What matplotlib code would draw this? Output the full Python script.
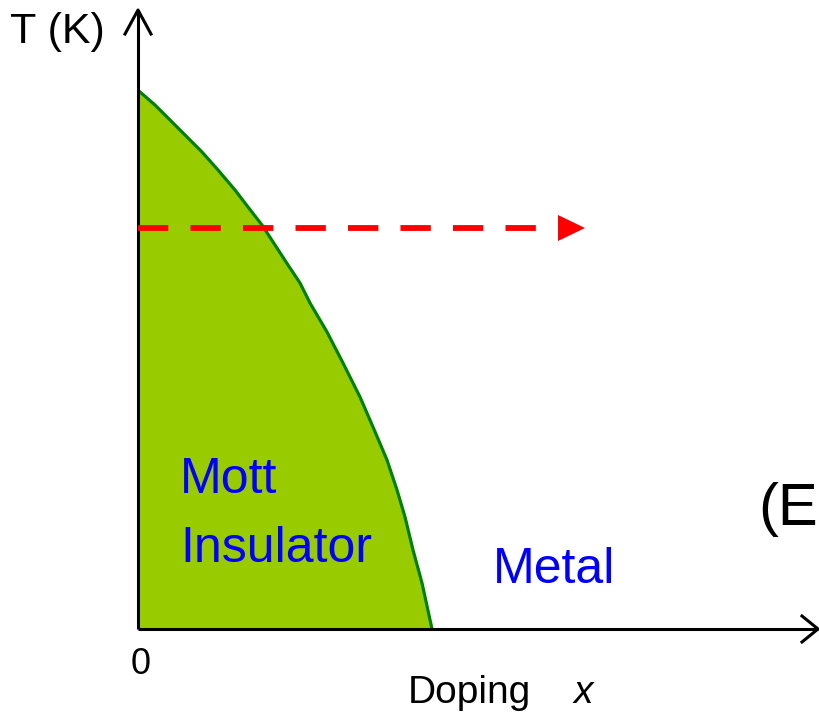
import matplotlib
matplotlib.use("Agg")
import matplotlib.pyplot as plt
from matplotlib.patches import Polygon

# Phase boundary T_MI(x) in plot units (origin at axis corner)
boundary_x = [0, 2, 17, 30, 47, 64, 80, 97, 110, 124, 137, 150, 162,
              172, 189, 205, 222, 235, 249, 259, 267, 275, 284, 294]
boundary_T = [539, 537, 524, 511, 494, 477, 459, 439, 422, 404, 384, 364, 346,
              326, 297, 266, 232, 202, 169, 139, 112, 79, 46, 0]

# Dashed arrow (constant temperature path)
path_T = 401
path_x_start = 0
path_x_end = 447

# Axis extents
x_axis_end = 680
T_axis_end = 619

fig = plt.figure(figsize=(8.2, 7.14), dpi=100)
ax = fig.add_axes([0, 0, 1, 1])
ax.set_xlim(-138, 682)
ax.set_ylim(-85, 629)
ax.axis("off")

# Filled Mott insulator region
poly_x = boundary_x + [0]
poly_T = boundary_T + [0]
ax.fill(poly_x, poly_T, color="#99CC00", lw=0, zorder=1)
ax.plot(boundary_x, boundary_T, color="#008000", lw=2.3, zorder=2,
        solid_capstyle="butt", solid_joinstyle="round")

# Axes with open arrowheads
ax.plot([0, x_axis_end], [0, 0], color="black", lw=2.2, zorder=3, solid_capstyle="butt")
ax.plot([0, 0], [0, T_axis_end], color="black", lw=2.2, zorder=3, solid_capstyle="butt")
ax.plot([x_axis_end - 16, x_axis_end, x_axis_end - 16], [13, 0, -13],
        color="black", lw=2.2, zorder=3)
ax.plot([-13, 0, 13], [T_axis_end - 24, T_axis_end, T_axis_end - 24],
        color="black", lw=2.2, zorder=3)

# Red dashed arrow
head_len = 27
ax.plot([path_x_start, path_x_end - head_len], [path_T, path_T], color="red",
        lw=4.2, dashes=(5.2, 3.8), zorder=4, solid_capstyle="butt", dash_capstyle="butt")
ax.add_patch(Polygon([[path_x_end - head_len, path_T + 13],
                      [path_x_end, path_T],
                      [path_x_end - head_len, path_T - 13]],
                     closed=True, color="red", lw=0, zorder=5))

sans = ["Liberation Sans", "DejaVu Sans"]

ax.text(-128, 586, "T (K)", family=sans, fontsize=31, ha="left", va="baseline")
ax.text(3, -45, "0", family=sans, fontsize=26, ha="center", va="baseline")
ax.text(270, -74, "Doping", family=sans, fontsize=28, ha="left", va="baseline")
ax.text(436, -74, "x", family=sans, style="italic", fontsize=28, ha="left", va="baseline")

ax.text(42, 136, "Mott", family=sans, fontsize=36, color="#0000FF", ha="left", va="baseline")
ax.text(42, 67, "Insulator", family=sans, fontsize=36, color="#0000FF", ha="left", va="baseline")
ax.text(355, 46, "Metal", family=sans, fontsize=36, color="#0000FF", ha="left", va="baseline")

ax.text(620, 104, "(E", family=sans, fontsize=43, ha="left", va="baseline", clip_on=False)

fig.savefig("out.png", dpi=100)
